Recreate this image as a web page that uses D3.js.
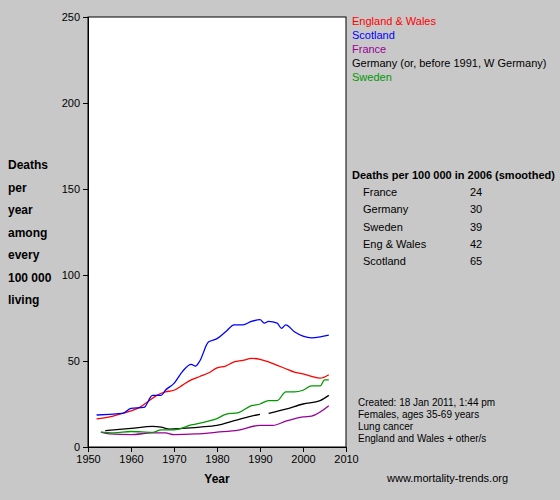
<!DOCTYPE html>
<html>
<head>
<meta charset="UTF-8" />
<script src="https://d3js.org/d3.v7.min.js"></script>
<style>
  body { margin: 0; background: #c8c8c8; font-family: "Liberation Sans", Arial, sans-serif; }
</style>
</head>
<body>
<div id="chart"></div>
<script>
// values (deaths per 100 000)
const engWales = [[1952,16.3],[1955,17.5],[1958,19.6],[1960,21],[1962,23],[1964,26.5],[1966,30],[1968,32],[1970,33],[1972,36],[1974,39],[1976,41],[1978,43],[1980,46],[1982,47],[1984,49.5],[1986,50.3],[1988,51.5],[1990,51],[1992,49.5],[1994,47.5],[1996,45.5],[1998,43.5],[2000,42.5],[2002,41],[2004,40],[2006,42]];
const scotland = [[1952,18.6],[1955,19],[1958,19.5],[1960,22.5],[1963,23],[1965,30],[1967,30],[1968,33],[1970,37],[1972,44],[1974,48],[1975,47],[1976,50],[1978,61],[1980,63],[1982,67],[1984,71],[1986,71],[1988,73],[1990,74],[1991,72],[1992,73],[1994,72],[1995,69],[1996,71],[1998,67],[2000,64.5],[2002,63.5],[2004,64],[2006,65]];
const france = [[1953,8.6],[1955,7.6],[1960,7.2],[1965,8.2],[1968,8.2],[1970,7.2],[1975,7.6],[1980,8.6],[1985,9.8],[1990,12.6],[1993,12.6],[1996,15],[2000,17.5],[2002,18],[2006,24]];
const germany = [[1954,9.5],[1960,10.8],[1965,12],[1967,11.6],[1969,10.4],[1972,10.8],[1976,11.6],[1980,12.6],[1984,15.3],[1988,18],[1990,19],[1991,null],[1992,19.5],[1996,22],[2000,25],[2004,27],[2006,30]];
const sweden = [[1953,8.6],[1956,8.2],[1960,9],[1965,8.5],[1967,10],[1970,10],[1974,12.8],[1978,15],[1980,16.5],[1982,19],[1985,20],[1988,24],[1990,25],[1992,27],[1994,27],[1996,32],[1998,32],[2000,33],[2002,35.5],[2004,35.5],[2005,39],[2006,39]];

const seriesNames = ["England & Wales", "Scotland", "France", "Germany (or, before 1991, W Germany)", "Sweden"];
const seriesColors = ["#ff0000", "#0000ff", "#990099", "#000000", "#009900"];
const seriesData = [engWales, scotland, france, germany, sweden];

const tableNames = ["France", "Germany", "Sweden", "Eng & Wales", "Scotland"];
const tableValues = [24, 30, 39, 42, 65];

const yLabel = ["Deaths", "per", "year", "among", "every", "100 000", "living"];
const notes = ["Created: 18 Jan 2011, 1:44 pm", "Females, ages 35-69 years", "Lung cancer", "England and Wales + other/s"];

const width = 560, height = 500;
const svg = d3.select("#chart").append("svg").attr("width", width).attr("height", height)
  .style("font-family", "'Liberation Sans', Arial, sans-serif");

const x = d3.scaleLinear().domain([1950, 2010]).range([88, 346]);
const y = d3.scaleLinear().domain([0, 250]).range([447, 17]);

svg.append("rect").attr("x", 88).attr("y", 17).attr("width", 258).attr("height", 430)
  .attr("fill", "#fff").attr("stroke", "#000");

svg.append("g").attr("transform", "translate(0,447)")
  .call(d3.axisBottom(x).tickValues(d3.range(1950, 2011, 10)).tickFormat(d3.format("d")).tickSize(5))
  .call(g => g.selectAll("text").attr("font-size", 11).attr("fill", "#000"));
svg.append("g").attr("transform", "translate(88,0)")
  .call(d3.axisLeft(y).tickValues(d3.range(0, 251, 50)).tickSize(5))
  .call(g => g.selectAll("text").attr("font-size", 11).attr("fill", "#000"));

const line = d3.line().defined(d => d[1] !== null).x(d => x(d[0])).y(d => y(d[1])).curve(d3.curveMonotoneX);
seriesData.forEach((s, i) => {
  svg.append("path").datum(s).attr("d", line).attr("fill", "none")
    .attr("stroke", seriesColors[i]).attr("stroke-width", 1.3);
});

seriesNames.forEach((n, i) => {
  svg.append("text").attr("x", 352).attr("y", 25 + i * 14).attr("font-size", 11)
    .attr("fill", seriesColors[i]).text(n);
});

yLabel.forEach((t, i) => {
  svg.append("text").attr("x", 8).attr("y", 169 + i * 22.5).attr("font-size", 12)
    .attr("font-weight", "bold").text(t);
});
svg.append("text").attr("x", 217).attr("y", 483).attr("text-anchor", "middle")
  .attr("font-size", 12).attr("font-weight", "bold").text("Year");

svg.append("text").attr("x", 352).attr("y", 179).attr("font-size", 11)
  .attr("font-weight", "bold").text("Deaths per 100 000 in 2006 (smoothed)");
tableNames.forEach((n, i) => {
  svg.append("text").attr("x", 363).attr("y", 196 + i * 17.3).attr("font-size", 11).text(n);
  svg.append("text").attr("x", 470).attr("y", 196 + i * 17.3).attr("font-size", 11).text(tableValues[i]);
});

notes.forEach((t, i) => {
  svg.append("text").attr("x", 358).attr("y", 406 + i * 12).attr("font-size", 10).text(t);
});
svg.append("text").attr("x", 387).attr("y", 482).attr("font-size", 11).text("www.mortality-trends.org");
</script>
</body>
</html>
